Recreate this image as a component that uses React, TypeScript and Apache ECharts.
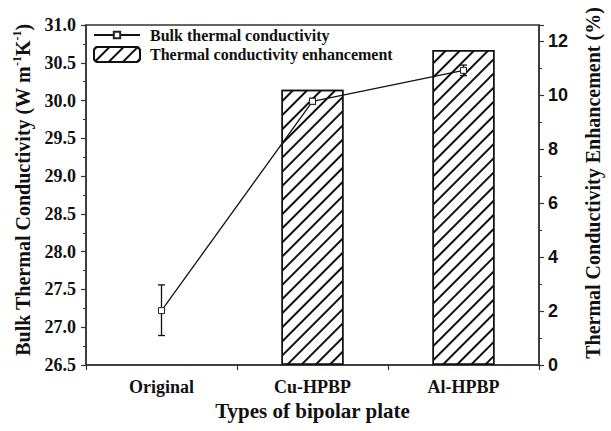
import React, { useEffect, useRef } from "react";
import * as echarts from "echarts";

const categories = ["Original", "Cu-HPBP", "Al-HPBP"];
const bulkConductivity = [27.22, 29.99, 30.4];
const errorLow = [26.89, 29.95, 30.33];
const errorHigh = [27.56, 30.03, 30.47];
const enhancement = [null, 10.2, 11.67];

const leftTicks = { min: 26.5, max: 31, interval: 0.5 };
const rightTicks = { min: 0, max: 12.6, interval: 2 };

const serif = "'Liberation Serif', 'Times New Roman', serif";
const sans = "'Liberation Sans', Arial, sans-serif";

export default function App() {
  const ref = useRef<HTMLDivElement>(null);
  useEffect(() => {
    if (!ref.current) return;
    const chart = echarts.init(ref.current, null, { renderer: "svg" });
    const axisColor = "#333";
    const errData = categories.map((_, i) => [i, errorLow[i], errorHigh[i]]);
    const legendText = {
      fontFamily: serif,
      fontWeight: "bold",
      fontSize: 16,
      color: "#111",
      padding: [0, 0, 0, 5],
      lineHeight: 16,
    };
    chart.setOption({
      animation: false,
      backgroundColor: "#fff",
      grid: {
        left: 86,
        right: 63,
        top: 25,
        bottom: 66,
        show: true,
        borderColor: axisColor,
        borderWidth: 1.5,
        backgroundColor: "transparent",
      },
      legend: [
        {
          orient: "vertical",
          left: 93,
          top: 27,
          padding: 0,
          itemWidth: 46,
          itemHeight: 8,
          textStyle: legendText,
          data: ["Bulk thermal conductivity"],
        },
        {
          orient: "vertical",
          left: 93,
          top: 46,
          padding: 0,
          itemWidth: 46,
          itemHeight: 15,
          textStyle: legendText,
          data: ["Thermal conductivity enhancement"],
        },
      ],
      xAxis: [
        {
          type: "category",
          data: categories,
          position: "bottom",
          axisLine: { lineStyle: { color: axisColor, width: 1.5 } },
          axisTick: { alignWithLabel: true, length: 5, lineStyle: { color: axisColor, width: 1.2 } },
          axisLabel: {
            margin: 13,
            fontFamily: serif,
            fontWeight: "bold",
            fontSize: 18,
            color: "#111",
          },
          name: "Types of bipolar plate",
          nameLocation: "middle",
          nameGap: 33,
          nameTextStyle: {
            fontFamily: serif,
            fontWeight: "bold",
            fontSize: 21,
            color: "#111",
          },
        },
        {
          type: "category",
          data: categories,
          position: "bottom",
          offset: 0,
          axisLine: { show: false },
          axisTick: { show: true, length: 5, lineStyle: { color: axisColor, width: 1.2 } },
          axisLabel: { show: false },
        },
      ],
      yAxis: [
        {
          type: "value",
          position: "left",
          min: leftTicks.min,
          max: leftTicks.max,
          interval: leftTicks.interval,
          splitLine: { show: false },
          axisLine: { show: true, lineStyle: { color: axisColor, width: 1.5 } },
          axisTick: { show: true, length: 5, lineStyle: { color: axisColor, width: 1.2 } },
          minorTick: { show: true, splitNumber: 2, length: 3, lineStyle: { color: axisColor, width: 1 } },
          axisLabel: {
            margin: 10,
            fontFamily: serif,
            fontWeight: "bold",
            fontSize: 18,
            color: "#111",
            formatter: (v: number) => v.toFixed(1),
          },
          name: "{a|Bulk Thermal Conductivity (W m}{s|-1}{a|K}{s|-1}{a|)}",
          nameLocation: "middle",
          nameRotate: 90,
          nameGap: 51,
          nameTextStyle: {
            padding: [0, 0, 0, 10],
            rich: {
              a: { fontFamily: serif, fontWeight: "bold", fontSize: 20, color: "#111", lineHeight: 24 },
              s: { fontFamily: serif, fontWeight: "bold", fontSize: 12, color: "#111", verticalAlign: "top", lineHeight: 12 },
            },
          },
        },
        {
          type: "value",
          position: "right",
          min: rightTicks.min,
          max: rightTicks.max,
          interval: rightTicks.interval,
          splitLine: { show: false },
          axisLine: { show: true, lineStyle: { color: axisColor, width: 1.5 } },
          axisTick: { show: true, length: 5, lineStyle: { color: axisColor, width: 1.2 } },
          minorTick: { show: true, splitNumber: 2, length: 3, lineStyle: { color: axisColor, width: 1 } },
          axisLabel: {
            margin: 9,
            fontFamily: sans,
            fontWeight: "bold",
            fontSize: 18,
            color: "#111",
            showMaxLabel: false,
            formatter: (v: number) => (v % 2 === 0 ? String(v) : ""),
          },
          name: "Thermal Conductivity Enhancement (%)",
          nameLocation: "middle",
          nameRotate: 90,
          nameGap: 44,
          nameTextStyle: {
            fontFamily: serif,
            fontWeight: "bold",
            fontSize: 20,
            color: "#111",
            padding: [0, 0, 0, 24],
          },
        },
      ],
      series: [
        {
          name: "Thermal conductivity enhancement",
          type: "bar",
          xAxisIndex: 0,
          yAxisIndex: 1,
          data: enhancement,
          barWidth: 62,
          itemStyle: {
            color: "#fff",
            borderColor: "#111",
            borderWidth: 1.5,
            decal: {
              symbol: "rect",
              symbolSize: 1,
              dashArrayX: [1, 0],
              dashArrayY: [1.6, 7.6],
              rotation: -Math.PI / 4,
              color: "#111",
              backgroundColor: "transparent",
            },
          },
          z: 2,
        },
        {
          name: "Bulk thermal conductivity",
          type: "line",
          xAxisIndex: 0,
          yAxisIndex: 0,
          data: bulkConductivity,
          symbol: "rect",
          symbolSize: 6,
          itemStyle: { color: "#fff", borderColor: "#222", borderWidth: 1 },
          lineStyle: { color: "#111", width: 1.3 },
          z: 4,
        },
        {
          name: "error",
          type: "custom",
          xAxisIndex: 0,
          yAxisIndex: 0,
          data: errData,
          encode: { x: 0, y: [1, 2] },
          z: 3,
          renderItem: (params: any, api: any) => {
            const lo = api.coord([api.value(0), api.value(1)]);
            const hi = api.coord([api.value(0), api.value(2)]);
            const hw = 3.5;
            const st = { stroke: "#111", lineWidth: 1.3 };
            return {
              type: "group",
              children: [
                { type: "line", shape: { x1: lo[0], y1: lo[1], x2: hi[0], y2: hi[1] }, style: st },
                { type: "line", shape: { x1: lo[0] - hw, y1: lo[1], x2: lo[0] + hw, y2: lo[1] }, style: st },
                { type: "line", shape: { x1: hi[0] - hw, y1: hi[1], x2: hi[0] + hw, y2: hi[1] }, style: st },
              ],
            };
          },
        },
      ],
    });
    return () => chart.dispose();
  }, []);
  return <div ref={ref} style={{ width: 611, height: 431, position: "absolute", left: 0, top: 0 }} />;
}
